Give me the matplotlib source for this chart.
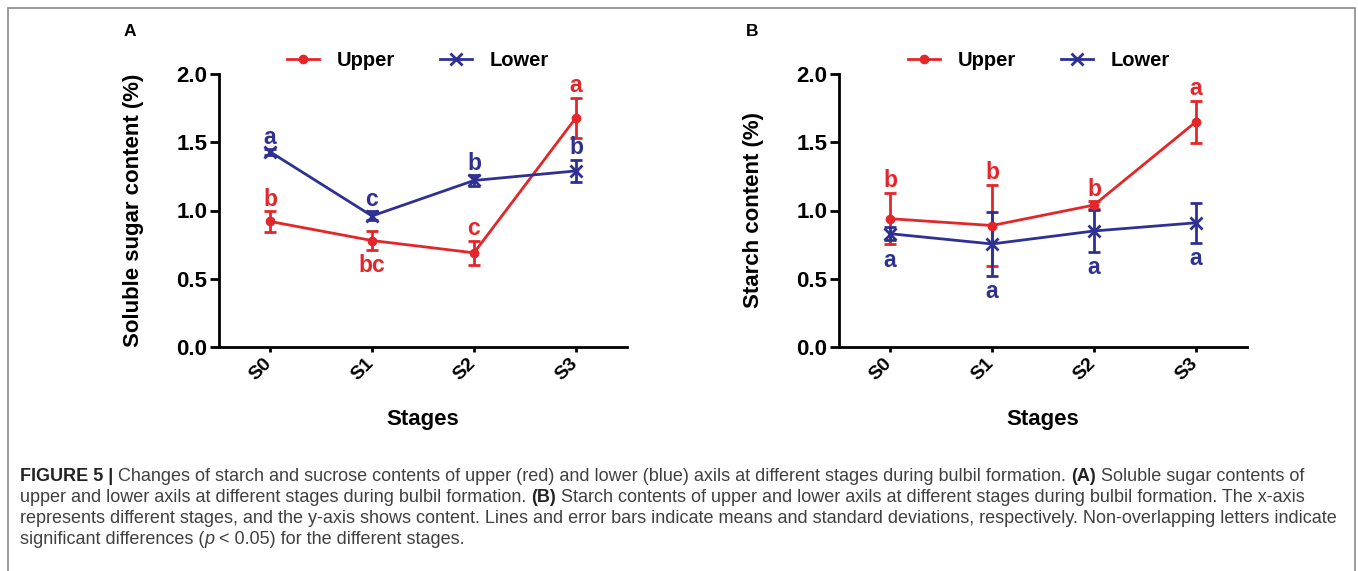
import numpy as np
import matplotlib
matplotlib.use("Agg")
import matplotlib.pyplot as plt
from matplotlib.patches import Rectangle
from matplotlib.transforms import ScaledTranslation

plt.rcParams['font.family'] = ['Liberation Sans', 'DejaVu Sans']

# stages on the x axis
stages = ['S0', 'S1', 'S2', 'S3']

# panel A: soluble sugar content (%)
sugar_upper = [0.92, 0.78, 0.69, 1.68]
sugar_upper_sd = [0.075, 0.067, 0.09, 0.147]
sugar_lower = [1.43, 0.96, 1.22, 1.29]
sugar_lower_sd = [0.02, 0.033, 0.039, 0.08]
sugar_upper_letters = ['b', 'bc', 'c', 'a']
sugar_upper_side = ['up', 'down', 'up', 'up']
sugar_lower_letters = ['a', 'c', 'b', 'b']
sugar_lower_side = ['up', 'up', 'up', 'up']

# panel B: starch content (%)
starch_upper = [0.94, 0.89, 1.04, 1.65]
starch_upper_sd = [0.188, 0.30, 0.027, 0.155]
starch_lower = [0.83, 0.755, 0.85, 0.91]
starch_lower_sd = [0.049, 0.237, 0.156, 0.145]
starch_upper_letters = ['b', 'b', 'b', 'a']
starch_upper_side = ['up', 'up', 'up', 'up']
starch_lower_letters = ['a', 'a', 'a', 'a']
starch_lower_side = ['down', 'down', 'down', 'down']

RED = '#E3262A'
BLUE = '#2E3192'

W, H = 1358, 571
fig = plt.figure(figsize=(W / 100, H / 100), dpi=100)

# grey frame round the figure (open at the bottom)
fig.patches.append(Rectangle((8 / W, -0.05), 1347 / W, 1.05 - 8 / H,
                             transform=fig.transFigure, fill=False,
                             edgecolor='#8a8a8a', linewidth=1.2))


def draw_panel(ax, upper, upper_sd, lower, lower_sd, up_let, up_side,
               lo_let, lo_side, ylabel):
    x = np.arange(len(stages))
    eb_up = ax.errorbar(x, upper, yerr=upper_sd, color=RED, marker='o',
                        markersize=6, linewidth=2, elinewidth=2, capsize=4,
                        capthick=2)
    eb_lo = ax.errorbar(x, lower, yerr=lower_sd, color=BLUE, marker='x',
                        markersize=9, markeredgewidth=2, linewidth=2,
                        elinewidth=2, capsize=4, capthick=2)

    up_arr = np.array(upper)
    lo_arr = np.array(lower)
    lowest = np.minimum(up_arr - upper_sd, lo_arr - lower_sd)
    for vals, sd, lets, sides, col in [(up_arr, upper_sd, up_let, up_side, RED),
                                       (lo_arr, lower_sd, lo_let, lo_side, BLUE)]:
        for i in range(len(stages)):
            if sides[i] == 'up':
                ax.annotate(lets[i], (i, vals[i] + sd[i]), xytext=(0, 4),
                            textcoords='offset points', ha='center',
                            va='baseline', color=col, fontsize=16.5,
                            fontweight='bold')
            else:
                ax.annotate(lets[i], (i, lowest[i]), xytext=(0, -3),
                            textcoords='offset points', ha='center', va='top',
                            color=col, fontsize=16.5, fontweight='bold')

    ax.set_xlim(-0.5, 3.5)
    ax.set_ylim(0, 2.0)
    ax.set_xticks(x)
    ax.set_xticklabels(stages, rotation=45, ha='right', fontsize=14,
                       fontweight='bold')
    ax.set_yticks(np.arange(0, 2.01, 0.5))
    ax.set_yticklabels([f'{v:.1f}' for v in np.arange(0, 2.01, 0.5)],
                       fontsize=16, fontweight='bold')
    for s in ['top', 'right']:
        ax.spines[s].set_visible(False)
    for s in ['left', 'bottom']:
        ax.spines[s].set_linewidth(2)
    ax.tick_params(axis='y', length=6.5, width=2, pad=2)
    ax.tick_params(axis='x', length=3.5, width=2, pad=2)
    # nudge the rotated stage labels a little to the right
    shift = ScaledTranslation(5 / 100, 0, fig.dpi_scale_trans)
    for lab in ax.get_xticklabels():
        lab.set_transform(lab.get_transform() + shift)
    ax.set_xlabel('Stages', fontsize=16, fontweight='bold', labelpad=18)
    ax.set_ylabel(ylabel, fontsize=16, fontweight='bold', labelpad=23)
    return eb_up[0], eb_lo[0]


axA = fig.add_axes([219 / W, 1 - 347 / H, 408 / W, 273 / H])
axB = fig.add_axes([839 / W, 1 - 347 / H, 408 / W, 273 / H])

hA = draw_panel(axA, sugar_upper, sugar_upper_sd, sugar_lower, sugar_lower_sd,
                sugar_upper_letters, sugar_upper_side, sugar_lower_letters,
                sugar_lower_side, 'Soluble sugar content (%)')
hB = draw_panel(axB, starch_upper, starch_upper_sd, starch_lower,
                starch_lower_sd, starch_upper_letters, starch_upper_side,
                starch_lower_letters, starch_lower_side, 'Starch content (%)')

for ax, handles, cx in [(axA, hA, 418), (axB, hB, 1039)]:
    ax.legend(handles, ['Upper', 'Lower'], loc='center',
              bbox_to_anchor=(cx / W, 1 - 61 / H),
              bbox_transform=fig.transFigure, ncol=2, frameon=False,
              prop={'size': 14.5, 'weight': 'bold'}, handlelength=1.6,
              handletextpad=0.9, columnspacing=2.2, borderpad=0)

fig.text(130 / W, 1 - 32 / H, 'A', fontsize=12.5, fontweight='bold',
         ha='center', va='center')
fig.text(752 / W, 1 - 32 / H, 'B', fontsize=12.5, fontweight='bold',
         ha='center', va='center')

# caption, drawn piece by piece so bold / italic parts sit inline
caption_lines = [
    [('FIGURE 5 | ', 'bold'),
     ('Changes of starch and sucrose contents of upper (red) and lower (blue) axils at different stages during bulbil formation. ', 'normal'),
     ('(A)', 'bold'), (' Soluble sugar contents of', 'normal')],
    [('upper and lower axils at different stages during bulbil formation. ', 'normal'),
     ('(B)', 'bold'),
     (' Starch contents of upper and lower axils at different stages during bulbil formation. The x-axis', 'normal')],
    [('represents different stages, and the y-axis shows content. Lines and error bars indicate means and standard deviations, respectively. Non-overlapping letters indicate', 'normal')],
    [('significant differences (', 'normal'), ('p', 'italic'),
     (' < 0.05) for the different stages.', 'normal')],
]
baselines = [481, 502, 523, 544]

renderer = fig.canvas.get_renderer()
for segs, yb in zip(caption_lines, baselines):
    xpos = 20 / W
    for txt, style in segs:
        kw = dict(fontsize=13, va='baseline', ha='left', color='#404040')
        if style == 'bold':
            kw.update(fontweight='bold', color='#222222')
        if style == 'italic':
            kw.update(fontstyle='italic')
        t = fig.text(xpos, 1 - yb / H, txt, **kw)
        xpos += t.get_window_extent(renderer).width / W

fig.savefig('out.png', dpi=100)
